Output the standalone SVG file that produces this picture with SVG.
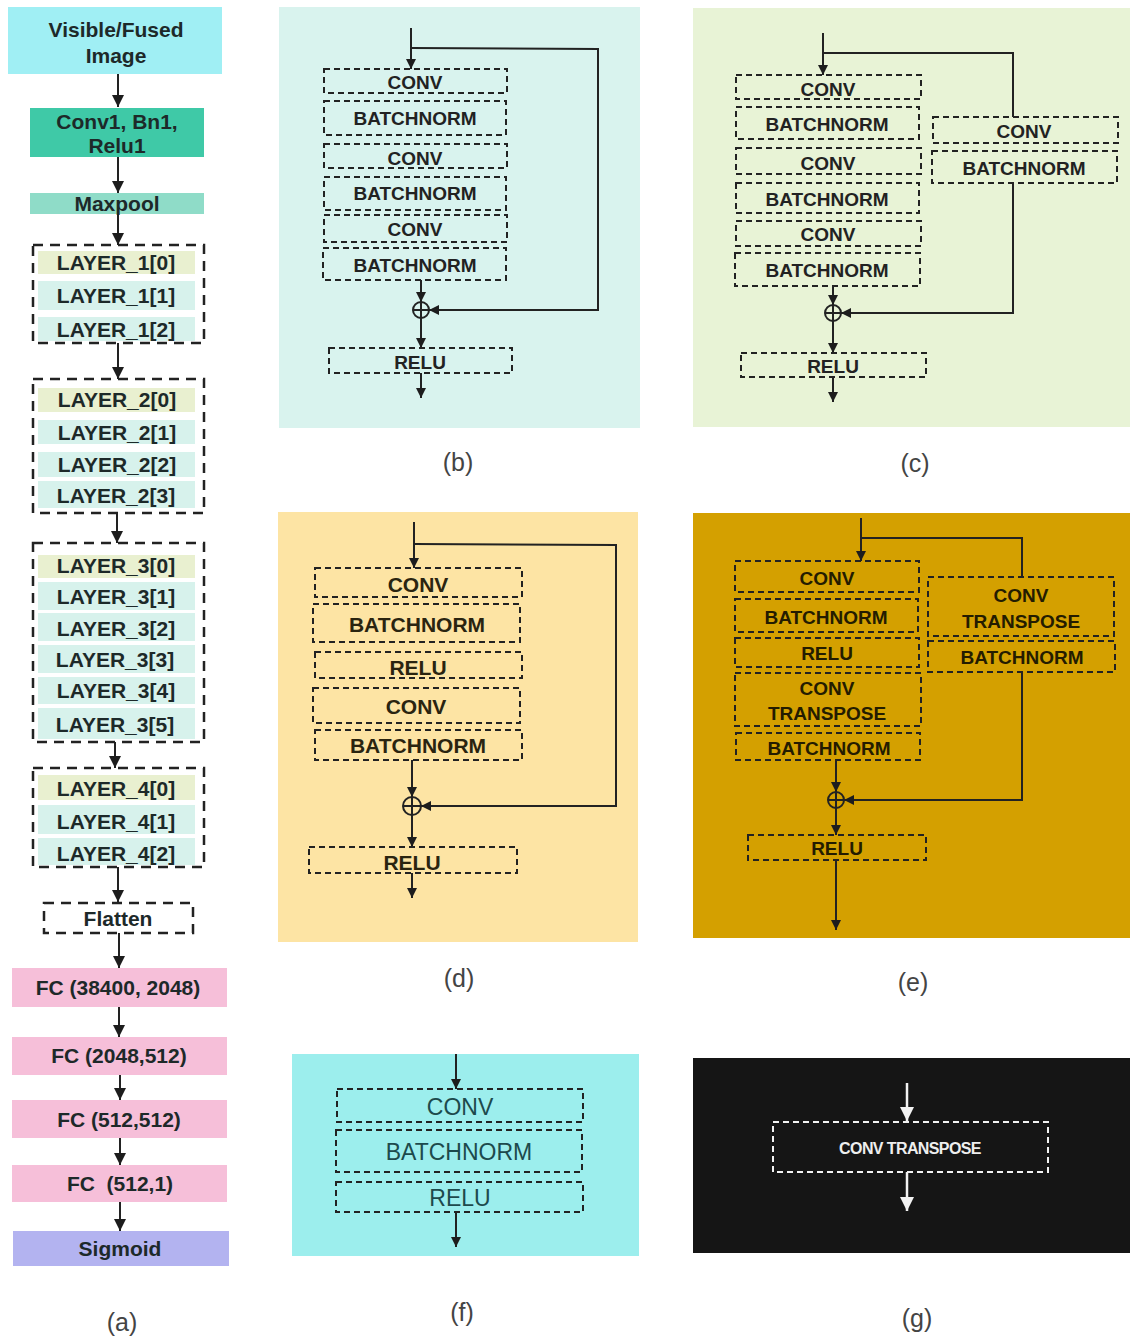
<svg xmlns="http://www.w3.org/2000/svg" width="1130" height="1338" viewBox="0 0 1130 1338">
<style>
text{font-family:"Liberation Sans",Arial,sans-serif;text-anchor:middle}
.ta{font-size:21px;font-weight:bold;fill:#1d2929;white-space:pre}
.tb{font-size:19px;font-weight:bold;fill:#222}
.td{font-size:21px;font-weight:bold;fill:#2a2410}
.te{font-size:19px;font-weight:bold;fill:#241c00}
.tf{font-size:23px;fill:#1d4a4c}
.tg{font-size:16px;font-weight:bold;fill:#eee;letter-spacing:-0.6px}
.cap{font-size:25px;fill:#444}
.dbox{fill:none;stroke:#222;stroke-width:2;stroke-dasharray:6 4}
.wbox{fill:none;stroke:#f2f2f2;stroke-width:2;stroke-dasharray:6 4}
.grp{fill:none;stroke:#222;stroke-width:2.5;stroke-dasharray:10 7}
.ln{fill:none;stroke:#222;stroke-width:2}
.wl{fill:none;stroke:#f2f2f2;stroke-width:2.5}
.r0{fill:#e9f0d0}
.r1{fill:#d7f2ec}
.fc{fill:#f6bfd9}
</style>
<defs>
<marker id="ah" viewBox="0 0 10 10" refX="10" refY="5" markerWidth="12" markerHeight="13" markerUnits="userSpaceOnUse" orient="auto"><path d="M0,0 L10,5 L0,10 z" fill="#1d1d1d"/></marker>
<marker id="as" viewBox="0 0 10 10" refX="10" refY="5" markerWidth="11" markerHeight="10" markerUnits="userSpaceOnUse" orient="auto"><path d="M0,0 L10,5 L0,10 z" fill="#1d1d1d"/></marker>
<marker id="aw" viewBox="0 0 10 10" refX="10" refY="5" markerWidth="15" markerHeight="14" markerUnits="userSpaceOnUse" orient="auto"><path d="M0,0 L10,5 L0,10 z" fill="#f2f2f2"/></marker>
</defs>
<rect width="1130" height="1338" fill="#ffffff"/>

<!-- panel backgrounds -->
<rect x="279" y="7" width="361" height="421" fill="#d9f3ee"/>
<rect x="693" y="8" width="437" height="419" fill="#e8f3d6"/>
<rect x="278" y="512" width="360" height="430" fill="#fde4a4"/>
<rect x="693" y="513" width="437" height="425" fill="#d4a000"/>
<rect x="292" y="1054" width="347" height="202" fill="#9ceeed"/>
<rect x="693" y="1058" width="437" height="195" fill="#151515"/>

<!-- ===== panel (a) ===== -->
<g id="a-input"><rect x="8" y="7" width="214" height="67" fill="#a0eff4"/><text class="ta" x="116" y="37">Visible/Fused</text><text class="ta" x="116" y="63">Image</text></g>
<g id="a-conv1"><rect x="30" y="108" width="174" height="49" fill="#3fc9a7"/><text class="ta" x="117" y="129">Conv1, Bn1,</text><text class="ta" x="117" y="153">Relu1</text></g>
<g id="a-maxpool"><rect x="30" y="193" width="174" height="21" fill="#8fdcc8"/><text class="ta" x="117" y="211">Maxpool</text></g>

<g id="a-layer1">
<rect class="r0" x="38" y="251" width="157" height="23"/><rect class="r1" x="38" y="281" width="157" height="29"/><rect class="r1" x="38" y="317" width="157" height="24"/>
<rect class="grp" x="33" y="245" width="171" height="98"/>
<text class="ta" x="116" y="270">LAYER_1[0]</text><text class="ta" x="116" y="303">LAYER_1[1]</text><text class="ta" x="116" y="337">LAYER_1[2]</text>
</g>
<g id="a-layer2">
<rect class="r0" x="38" y="388" width="157" height="24"/><rect class="r1" x="38" y="420" width="157" height="24"/><rect class="r1" x="38" y="452" width="157" height="25"/><rect class="r1" x="38" y="481" width="157" height="27"/>
<rect class="grp" x="33" y="379" width="171" height="134"/>
<text class="ta" x="117" y="407">LAYER_2[0]</text><text class="ta" x="117" y="440">LAYER_2[1]</text><text class="ta" x="117" y="472">LAYER_2[2]</text><text class="ta" x="116" y="503">LAYER_2[3]</text>
</g>
<g id="a-layer3">
<rect class="r0" x="38" y="555" width="157" height="23"/><rect class="r1" x="38" y="582" width="157" height="28"/><rect class="r1" x="38" y="613" width="157" height="28"/><rect class="r1" x="38" y="645" width="157" height="28"/><rect class="r1" x="38" y="677" width="157" height="27"/><rect class="r1" x="38" y="708" width="157" height="31"/>
<rect class="grp" x="33" y="543" width="171" height="199"/>
<text class="ta" x="116" y="573">LAYER_3[0]</text><text class="ta" x="116" y="604">LAYER_3[1]</text><text class="ta" x="116" y="636">LAYER_3[2]</text><text class="ta" x="115" y="667">LAYER_3[3]</text><text class="ta" x="116" y="698">LAYER_3[4]</text><text class="ta" x="115" y="732">LAYER_3[5]</text>
</g>
<g id="a-layer4">
<rect class="r0" x="38" y="775" width="157" height="25"/><rect class="r1" x="38" y="805" width="157" height="29"/><rect class="r1" x="38" y="838" width="157" height="27"/>
<rect class="grp" x="33" y="768" width="171" height="99"/>
<text class="ta" x="116" y="796">LAYER_4[0]</text><text class="ta" x="116" y="829">LAYER_4[1]</text><text class="ta" x="116" y="861">LAYER_4[2]</text>
</g>
<g id="a-flatten"><rect class="grp" x="44" y="903" width="149" height="30"/><text class="ta" x="118" y="926">Flatten</text></g>
<g id="a-fc1"><rect class="fc" x="12" y="968" width="215" height="39"/><text class="ta" x="118" y="995">FC (38400, 2048)</text></g>
<g id="a-fc2"><rect class="fc" x="12" y="1037" width="215" height="38"/><text class="ta" x="119" y="1063">FC (2048,512)</text></g>
<g id="a-fc3"><rect class="fc" x="12" y="1100" width="215" height="38"/><text class="ta" x="119" y="1127">FC (512,512)</text></g>
<g id="a-fc4"><rect class="fc" x="12" y="1165" width="215" height="37"/><text class="ta" x="120" y="1191">FC  (512,1)</text></g>
<g id="a-sigmoid"><rect x="13" y="1231" width="216" height="35" fill="#b3b3f0"/><text class="ta" x="120" y="1256" fill="#232346">Sigmoid</text></g>

<!-- ===== panel (b) ===== -->
<g id="b-conv1"><rect class="dbox" x="324" y="69" width="183" height="24"/><text class="tb" x="415" y="89">CONV</text></g>
<g id="b-bn1"><rect class="dbox" x="324" y="101" width="182" height="34"/><text class="tb" x="415" y="125">BATCHNORM</text></g>
<g id="b-conv2"><rect class="dbox" x="324" y="144" width="183" height="24"/><text class="tb" x="415" y="165">CONV</text></g>
<g id="b-bn2"><rect class="dbox" x="324" y="177" width="182" height="33"/><text class="tb" x="415" y="200">BATCHNORM</text></g>
<g id="b-conv3"><rect class="dbox" x="324" y="215" width="183" height="27"/><text class="tb" x="415" y="236">CONV</text></g>
<g id="b-bn3"><rect class="dbox" x="323" y="248" width="183" height="32"/><text class="tb" x="415" y="272">BATCHNORM</text></g>
<g id="b-add"><circle cx="421" cy="310" r="8" class="ln"/><path class="ln" d="M413,310 H429 M421,302 V318"/></g>
<g id="b-relu"><rect class="dbox" x="329" y="348" width="183" height="25"/><text class="tb" x="420" y="369">RELU</text></g>

<!-- ===== panel (c) ===== -->
<g id="c-conv1"><rect class="dbox" x="736" y="75" width="185" height="24"/><text class="tb" x="828" y="96">CONV</text></g>
<g id="c-bn1"><rect class="dbox" x="736" y="107" width="183" height="32"/><text class="tb" x="827" y="131">BATCHNORM</text></g>
<g id="c-conv2"><rect class="dbox" x="736" y="148" width="185" height="26"/><text class="tb" x="828" y="170">CONV</text></g>
<g id="c-bn2"><rect class="dbox" x="736" y="183" width="183" height="30"/><text class="tb" x="827" y="206">BATCHNORM</text></g>
<g id="c-conv3"><rect class="dbox" x="736" y="221" width="185" height="25"/><text class="tb" x="828" y="241">CONV</text></g>
<g id="c-bn3"><rect class="dbox" x="735" y="253" width="185" height="33"/><text class="tb" x="827" y="277">BATCHNORM</text></g>
<g id="c-conv4"><rect class="dbox" x="933" y="117" width="185" height="26"/><text class="tb" x="1024" y="138">CONV</text></g>
<g id="c-bn4"><rect class="dbox" x="932" y="151" width="185" height="32"/><text class="tb" x="1024" y="175">BATCHNORM</text></g>
<g id="c-add"><circle cx="833" cy="313" r="8" class="ln"/><path class="ln" d="M825,313 H841 M833,305 V321"/></g>
<g id="c-relu"><rect class="dbox" x="741" y="353" width="185" height="24"/><text class="tb" x="833" y="373">RELU</text></g>

<!-- ===== panel (d) ===== -->
<g id="d-conv1"><rect class="dbox" x="315" y="568" width="207" height="29"/><text class="td" x="418" y="592">CONV</text></g>
<g id="d-bn1"><rect class="dbox" x="313" y="604" width="207" height="38"/><text class="td" x="417" y="632">BATCHNORM</text></g>
<g id="d-relu1"><rect class="dbox" x="315" y="652" width="207" height="26"/><text class="td" x="418" y="675">RELU</text></g>
<g id="d-conv2"><rect class="dbox" x="313" y="688" width="207" height="35"/><text class="td" x="416" y="714">CONV</text></g>
<g id="d-bn2"><rect class="dbox" x="315" y="730" width="207" height="30"/><text class="td" x="418" y="753">BATCHNORM</text></g>
<g id="d-add"><circle cx="412" cy="806" r="9" class="ln"/><path class="ln" d="M403,806 H421 M412,797 V815"/></g>
<g id="d-relu2"><rect class="dbox" x="309" y="847" width="208" height="26"/><text class="td" x="412" y="870">RELU</text></g>

<!-- ===== panel (e) ===== -->
<g id="e-conv1"><rect class="dbox" x="735" y="561" width="184" height="31"/><text class="te" x="827" y="585">CONV</text></g>
<g id="e-bn1"><rect class="dbox" x="735" y="599" width="183" height="33"/><text class="te" x="826" y="624">BATCHNORM</text></g>
<g id="e-relu1"><rect class="dbox" x="735" y="638" width="184" height="29"/><text class="te" x="827" y="660">RELU</text></g>
<g id="e-convt1"><rect class="dbox" x="735" y="673" width="186" height="53"/><text class="te" x="827" y="695">CONV</text><text class="te" x="827" y="720">TRANSPOSE</text></g>
<g id="e-bn2"><rect class="dbox" x="736" y="733" width="184" height="27"/><text class="te" x="829" y="755">BATCHNORM</text></g>
<g id="e-convt2"><rect class="dbox" x="928" y="577" width="186" height="59"/><text class="te" x="1021" y="602">CONV</text><text class="te" x="1021" y="628">TRANSPOSE</text></g>
<g id="e-bn3"><rect class="dbox" x="928" y="641" width="187" height="31"/><text class="te" x="1022" y="664">BATCHNORM</text></g>
<g id="e-add"><circle cx="836" cy="800" r="8" class="ln"/><path class="ln" d="M828,800 H844 M836,792 V808"/></g>
<g id="e-relu2"><rect class="dbox" x="748" y="835" width="178" height="25"/><text class="te" x="837" y="855">RELU</text></g>

<!-- ===== panel (f) ===== -->
<g id="f-conv"><rect class="dbox" x="337" y="1089" width="246" height="33"/><text class="tf" x="460" y="1115">CONV</text></g>
<g id="f-bn"><rect class="dbox" x="336" y="1130" width="246" height="42"/><text class="tf" x="459" y="1160">BATCHNORM</text></g>
<g id="f-relu"><rect class="dbox" x="336" y="1182" width="247" height="30"/><text class="tf" x="460" y="1206">RELU</text></g>

<!-- ===== panel (g) ===== -->
<g id="g-convt"><rect class="wbox" x="773" y="1122" width="275" height="50"/><text class="tg" x="910" y="1154">CONV TRANSPOSE</text></g>

<!-- ===== connectors ===== -->
<g id="connectors">
<g marker-end="url(#ah)" class="ln">
<line x1="118" y1="74" x2="118" y2="107"/>
<line x1="118" y1="157" x2="118" y2="193"/>
<line x1="118" y1="214" x2="118" y2="245"/>
<line x1="118" y1="343" x2="118" y2="379"/>
<line x1="117" y1="513" x2="117" y2="543"/>
<line x1="115" y1="742" x2="115" y2="768"/>
<line x1="118" y1="867" x2="118" y2="902"/>
<line x1="119" y1="933" x2="119" y2="968"/>
<line x1="119" y1="1007" x2="119" y2="1037"/>
<line x1="120" y1="1075" x2="120" y2="1100"/>
<line x1="120" y1="1138" x2="120" y2="1165"/>
<line x1="120" y1="1202" x2="120" y2="1231"/>
</g>
<g marker-end="url(#as)" class="ln">
<line x1="411" y1="28" x2="411" y2="69"/>
<polyline points="411,48 598,49 598,310 429,310"/>
<line x1="421" y1="280" x2="421" y2="302"/>
<line x1="421" y1="318" x2="421" y2="348"/>
<line x1="421" y1="373" x2="421" y2="398"/>

<line x1="823" y1="33" x2="823" y2="75"/>
<polyline points="1013,183 1013,313 841,313"/>
<line x1="833" y1="286" x2="833" y2="305"/>
<line x1="833" y1="321" x2="833" y2="353"/>
<line x1="833" y1="377" x2="833" y2="402"/>

<line x1="414" y1="522" x2="414" y2="568"/>
<polyline points="414,544 616,545 616,806 421,806"/>
<line x1="412" y1="760" x2="412" y2="797"/>
<line x1="412" y1="815" x2="412" y2="847"/>
<line x1="412" y1="873" x2="412" y2="898"/>

<line x1="861" y1="518" x2="861" y2="561"/>
<polyline points="1022,672 1022,800 844,800"/>
<line x1="836" y1="760" x2="836" y2="792"/>
<line x1="836" y1="808" x2="836" y2="835"/>
<line x1="836" y1="860" x2="836" y2="930"/>

<line x1="456" y1="1054" x2="456" y2="1089"/>
<line x1="456" y1="1212" x2="456" y2="1247"/>
</g>
<polyline class="ln" points="823,53 1013,53 1013,117"/>
<polyline class="ln" points="861,538 1022,538 1022,577"/>
<g marker-end="url(#aw)" class="wl">
<line x1="907" y1="1083" x2="907" y2="1121"/>
<line x1="907" y1="1172" x2="907" y2="1211"/>
</g>
</g>

<!-- captions -->
<text class="cap" x="122" y="1331">(a)</text>
<text class="cap" x="458" y="471">(b)</text>
<text class="cap" x="915" y="472">(c)</text>
<text class="cap" x="459" y="987">(d)</text>
<text class="cap" x="913" y="991">(e)</text>
<text class="cap" x="462" y="1321">(f)</text>
<text class="cap" x="917" y="1327">(g)</text>
</svg>
